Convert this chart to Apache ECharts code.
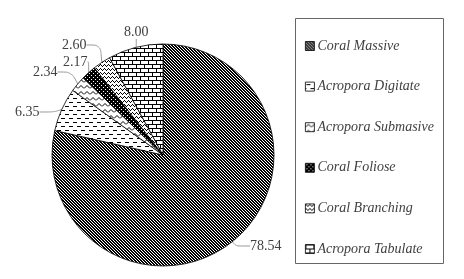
<!DOCTYPE html>
<html><head><meta charset="utf-8">
<script src="https://cdn.jsdelivr.net/npm/echarts@6/dist/echarts.min.js"></script>
<style>html,body{margin:0;padding:0;background:#fff}#c{width:464px;height:279px}</style>
</head><body><div id="c"></div>
<script>
const categories = ['Coral Massive','Acropora Digitate','Acropora Submasive','Coral Foliose','Coral Branching','Acropora Tabulate'];
const values = [78.54, 6.35, 2.34, 2.17, 2.60, 8.00];
const labels = ['78.54','6.35','2.34','2.17','2.60','8.00'];
// label text anchor (left, middle)
const labelPos = [[250,246],[15,112],[33,72],[63,62],[62,45],[124,32]];

function tile(w,h,draw){const c=document.createElement('canvas');c.width=w;c.height=h;const g=c.getContext('2d');g.fillStyle='#fff';g.fillRect(0,0,w,h);g.fillStyle='#000';g.strokeStyle='#000';draw(g);return {image:c,repeat:'repeat'};}
const patterns = [
  tile(3,3,g=>{for(let i=0;i<3;i++){g.fillRect(i,i,1,1);g.fillRect((i+1)%3,i,1,1);}}),
  tile(8,8,g=>{g.fillRect(1,2,4,1);g.fillRect(5,6,3,1);g.fillRect(0,6,1,1);}),
  tile(6,6,g=>{g.lineWidth=1;g.beginPath();g.moveTo(0,4.5);g.lineTo(3,1.5);g.lineTo(6,4.5);g.stroke();}),
  tile(4,4,g=>{g.fillRect(0,0,4,4);g.fillStyle='#fff';g.fillRect(1,1,1,1);g.fillRect(3,3,1,1);}),
  tile(4,4,g=>{g.fillRect(0,0,1,1);g.fillRect(1,1,1,1);g.fillRect(2,2,1,1);g.fillRect(3,1,1,1);}),
  tile(8,8,g=>{g.fillRect(0,0,8,1);g.fillRect(0,4,8,1);g.fillRect(0,0,1,4);g.fillRect(4,4,1,4);})
];

const chart = echarts.init(document.getElementById('c'));
chart.setOption({
  animation:false,
  backgroundColor:'#fff',
  graphic:[{type:'rect',shape:{x:295.5,y:18.5,width:148,height:245},style:{fill:'none',stroke:'#666',lineWidth:1}}],
  legend:{orient:'vertical',left:300,top:34,itemWidth:9,itemHeight:9,itemGap:26.6,icon:'rect',
    data:categories,
    textStyle:{fontFamily:'Liberation Serif',fontStyle:'italic',fontSize:14,color:'#404040',padding:[0,0,0,-2]},
    itemStyle:{borderColor:'#000',borderWidth:0.8}},
  series:[{type:'pie',center:[163,155],radius:111,startAngle:90,clockwise:true,
    data:categories.map((n,i)=>({name:n,value:values[i],itemStyle:{color:patterns[i]}})),
    itemStyle:{borderColor:'#000',borderWidth:0.8},
    label:{show:true,position:'outside',formatter:p=>labels[p.dataIndex],fontFamily:'Liberation Serif',fontSize:14,color:'#404040'},
    labelLine:{show:true,length:8,length2:14,smooth:0.3,lineStyle:{color:'#999',width:1}},
    labelLayout:p=>({x:labelPos[p.dataIndex][0],y:labelPos[p.dataIndex][1],align:'left',verticalAlign:'middle'}),
    emphasis:{disabled:true}
  }]
});
</script></body></html>
